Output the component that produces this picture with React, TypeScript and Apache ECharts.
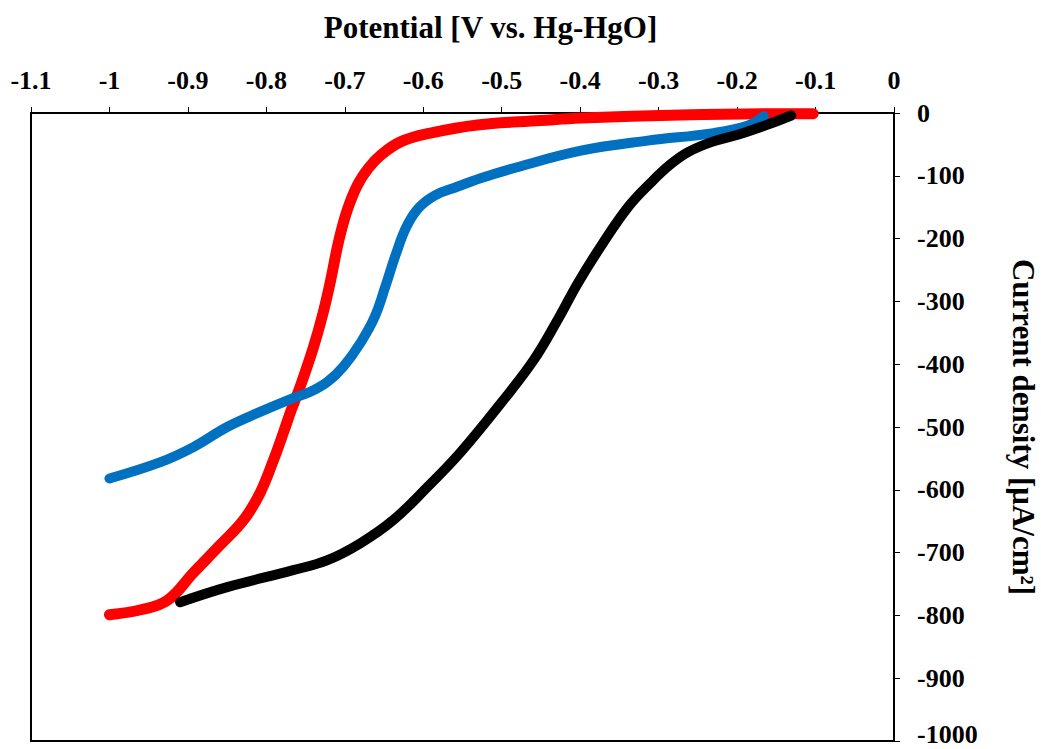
import React, { useEffect, useRef } from "react";
import * as echarts from "echarts";

const xTitle = "Potential [V vs. Hg-HgO]";
const yTitle = "Current density [μA/cm²]";

const redSeries: [number, number][] = [
  [-1.0, -799], [-0.96, -791], [-0.926, -776], [-0.893, -732], [-0.859, -688],
  [-0.829, -648], [-0.808, -605], [-0.791, -553], [-0.778, -508], [-0.768, -472],
  [-0.757, -436], [-0.74, -373], [-0.728, -320], [-0.718, -266], [-0.708, -205],
  [-0.697, -155], [-0.684, -115], [-0.67, -88], [-0.655, -68], [-0.629, -46],
  [-0.591, -32], [-0.531, -19], [-0.45, -12], [-0.399, -8], [-0.272, -3],
  [-0.144, -1], [-0.103, -1],
];

const blueSeries: [number, number][] = [
  [-1.0, -582], [-0.935, -556], [-0.893, -532], [-0.85, -500], [-0.808, -476],
  [-0.766, -454], [-0.744, -444], [-0.722, -428], [-0.702, -404], [-0.68, -366],
  [-0.662, -325], [-0.648, -275], [-0.635, -225], [-0.621, -180], [-0.605, -150],
  [-0.585, -131], [-0.56, -119], [-0.527, -104], [-0.485, -88], [-0.399, -60],
  [-0.314, -44], [-0.23, -32], [-0.186, -20], [-0.166, -5],
];

const blackSeries: [number, number][] = [
  [-0.91, -779], [-0.85, -755], [-0.766, -728], [-0.722, -712], [-0.68, -685],
  [-0.638, -648], [-0.595, -596], [-0.553, -541], [-0.501, -462], [-0.459, -393],
  [-0.429, -330], [-0.403, -271], [-0.374, -213], [-0.339, -150], [-0.31, -111],
  [-0.285, -82], [-0.262, -62], [-0.232, -46], [-0.195, -33], [-0.16, -18],
  [-0.131, -4],
];

const FONT = "'Times New Roman', 'Liberation Serif', serif";

export default function App() {
  const ref = useRef<HTMLDivElement>(null);
  useEffect(() => {
    if (!ref.current) return;
    const chart = echarts.init(ref.current, undefined, { renderer: "svg" });
    const mkLine = (name: string, data: [number, number][], color: string, w: number) => ({
      name,
      type: "line",
      data,
      smooth: 0.4,
      showSymbol: false,
      symbol: "none",
      lineStyle: { color, width: w, cap: "round", join: "round" },
      z: 3,
    });
    const labelStyle = {
      fontFamily: FONT,
      fontWeight: "bold",
      fontSize: 26,
      color: "#000",
    };
    chart.setOption({
      animation: false,
      backgroundColor: "#fff",
      grid: {
        left: 31,
        right: 147,
        top: 113,
        bottom: 8,
        containLabel: false,
        outerBoundsMode: "none",
        show: true,
        borderColor: "#000",
        borderWidth: 2,
        backgroundColor: "transparent",
      },
      xAxis: {
        type: "value",
        position: "top",
        min: -1.1,
        max: 0,
        interval: 0.1,
        name: xTitle,
        nameLocation: "middle",
        nameGap: 70,
        nameTextStyle: {
          fontFamily: FONT,
          fontWeight: "bold",
          fontSize: 31,
          color: "#000",
          padding: [0, 0, 0, 56],
        },
        axisLine: { show: true, onZero: false, lineStyle: { color: "#000", width: 1.5 } },
        axisTick: { show: true, inside: false, length: 6, lineStyle: { color: "#000", width: 1 } },
        splitLine: { show: false },
        axisLabel: {
          margin: 20,
          ...labelStyle,
          formatter: (v: number) => String(Math.round(v * 10) / 10),
        },
      },
      yAxis: {
        type: "value",
        position: "right",
        min: -1000,
        max: 0,
        interval: 100,
        name: yTitle,
        nameLocation: "middle",
        nameRotate: -90,
        nameGap: 114,
        nameTextStyle: { fontFamily: FONT, fontWeight: "bold", fontSize: 31, color: "#000" },
        axisLine: { show: true, onZero: false, lineStyle: { color: "#000", width: 1.5 } },
        axisTick: { show: true, inside: false, length: 6, lineStyle: { color: "#000", width: 1 } },
        splitLine: { show: false },
        axisLabel: {
          margin: 23,
          ...labelStyle,
          align: "left",
          formatter: (v: number) => {
            const s = String(Math.round(v));
            return v <= -1000 ? "{low|" + s + "}" : s;
          },
          rich: {
            low: { ...labelStyle, padding: [0, 0, 14, 0] },
          },
        },
      },
      series: [
        mkLine("Red", redSeries, "#FF0000", 11),
        mkLine("Blue", blueSeries, "#0070C0", 10),
        mkLine("Black", blackSeries, "#000000", 10),
      ],
    });
    return () => chart.dispose();
  }, []);
  return (
    <div
      ref={ref}
      style={{ position: "absolute", left: 0, top: 0, width: 1041, height: 749, background: "#fff" }}
    />
  );
}
